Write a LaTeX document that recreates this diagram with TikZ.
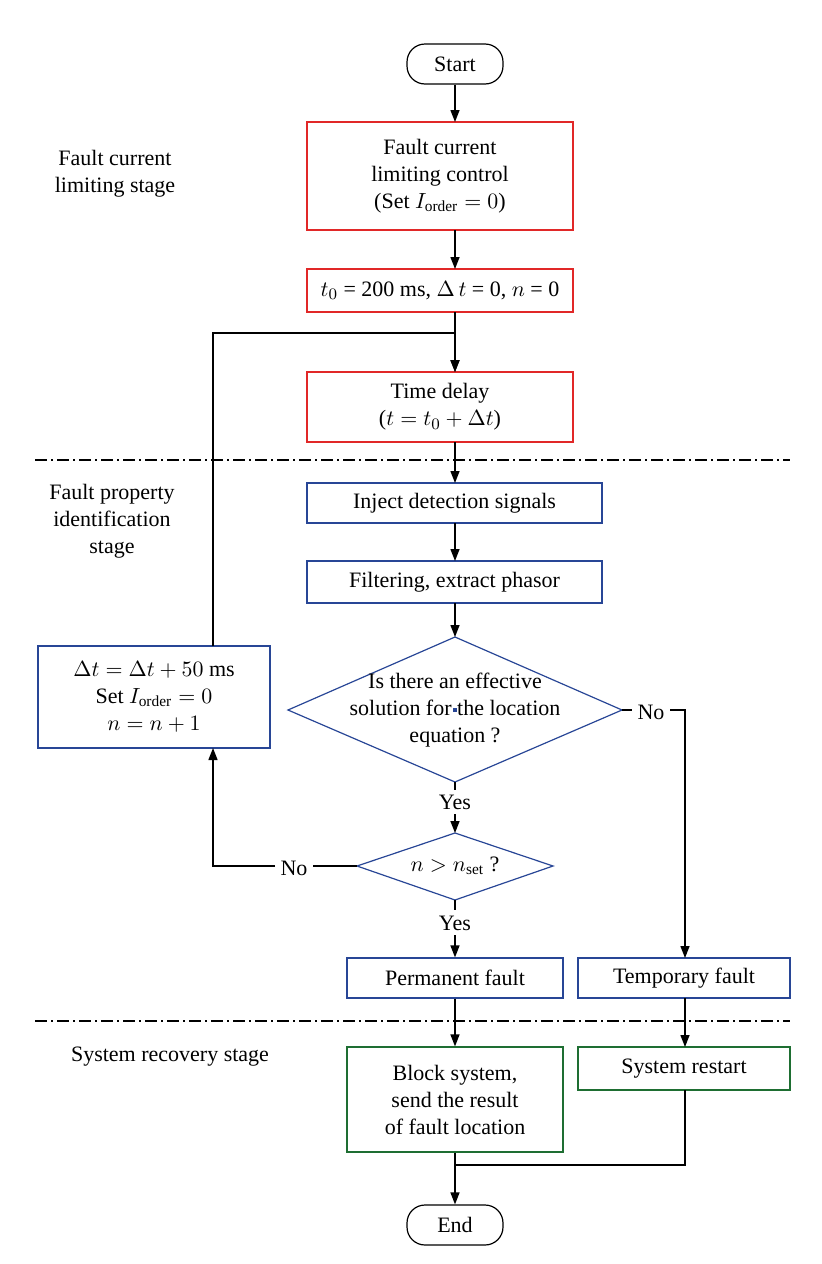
\documentclass[tikz,border=0pt]{standalone}
\usepackage{fontspec}
\setmainfont{Liberation Serif}
\usetikzlibrary{shapes.geometric,arrows.meta}
\definecolor{rd}{RGB}{225,40,40}
\definecolor{bl}{RGB}{40,70,150}
\definecolor{gr}{RGB}{30,110,50}
\begin{document}
\begin{tikzpicture}[x=0.5pt,y=-0.5pt,font=\fontsize{11}{13.5}\selectfont,
 box/.style={draw,line width=0.6pt,align=center,inner sep=0pt,minimum height=#1},
 rbox/.style={box=#1,draw=rd},bbox/.style={box=#1,draw=bl},gbox/.style={box=#1,draw=gr},
 term/.style={draw,rounded corners=9pt,minimum width=48pt,minimum height=20pt,inner sep=0pt,line width=0.6pt},
 dia/.style={diamond,draw=bl,line width=0.6pt,aspect=#1,inner sep=0pt,align=center},
 ar/.style={-{Triangle[length=6pt,width=4.5pt]},line width=0.7pt},
 ln/.style={line width=0.7pt},
 sep/.style={line width=0.6pt,dash pattern=on 6pt off 2pt on 1pt off 2pt}]
\useasboundingbox (0,0) rectangle (821,1264);
\node[term] (start) at (455,64) {Start};
\node[rbox=54pt,minimum width=133pt] (b1) at (440,176) {Fault current\\limiting control\\(Set $I_{\mathrm{order}}=0$)};
\node[rbox=21.5pt,minimum width=133pt] (b2) at (440,290.5) {$t_0$ = 200 ms, $\Delta\,t$ = 0, $n$ = 0};
\node[rbox=35pt,minimum width=133pt] (b3) at (440,407) {Time delay\\($t=t_0+\Delta t$)};
\node[bbox=20pt,minimum width=147.5pt] (b4) at (454.5,503) {Inject detection signals};
\node[bbox=21pt,minimum width=147.5pt] (b5) at (454.5,582) {Filtering, extract phasor};
\node[draw=bl,line width=0.6pt,align=center,inner sep=0pt] (d1) at (455,710) {};
\coordinate (d1t) at (455,637); \coordinate (d1b) at (455,782);
\coordinate (d1l) at (288,710); \coordinate (d1r) at (622,710);
\draw[bl,line width=0.6pt] (d1t)--(d1r)--(d1b)--(d1l)--cycle;
\node[align=center,inner sep=0pt] at (455,710) {Is there an effective\\solution for the location\\equation ?};
\coordinate (d2t) at (455,833); \coordinate (d2b) at (455,900);
\coordinate (d2l) at (357,866); \coordinate (d2r) at (553,866);
\draw[bl,line width=0.6pt] (d2t)--(d2r)--(d2b)--(d2l)--cycle;
\node[inner sep=0pt] (d2) at (455,866) {$n>n_{\mathrm{set}}$ ?};
\node[bbox=51pt,minimum width=116pt] (lb) at (154,697) {$\Delta t=\Delta t+50$ ms\\Set $I_{\mathrm{order}}=0$\\$n=n+1$};
\node[bbox=20pt,minimum width=108pt] (pf) at (455,978) {Permanent fault};
\node[bbox=20pt,minimum width=106pt] (tf) at (684,978) {Temporary fault};
\node[gbox=52.5pt,minimum width=108pt] (bs) at (455,1099.5) {Block system,\\send the result\\of fault location};
\node[gbox=21.5pt,minimum width=106pt] (sr) at (684,1068.5) {System restart};
\node[term] (end) at (455,1225) {End};
\draw[sep] (35,460)--(790,460); \draw[sep] (35,1021)--(790,1021);
\node[align=center] at (115,174) {Fault current\\limiting stage};
\node[align=center] at (112,521) {Fault property\\identification\\stage};
\node at (170,1057) {System recovery stage};
\draw[ar] (start)--(455,122);
\draw[ar] (455,230)--(455,269);
\draw[ar] (455,312)--(455,372);
\draw[ar] (455,442)--(455,483);
\draw[ar] (455,523)--(455,561);
\draw[ar] (455,603)--(d1t);
\draw[ln] (d1b)--(455,790);
\node[fill=white,inner sep=1pt] (y1) at (455,802) {Yes};
\draw[ar] (455,814)--(d2t);
\draw[ln] (d2b)--(455,910);
\node[fill=white,inner sep=1pt] (y2) at (455,923) {Yes};
\draw[ar] (455,935)--(pf);
\draw[ln] (d1r)--(632,710);
\node[inner sep=1pt] (n1) at (651,712) {No};
\draw[ar] (670,710)--(685,710)--(685,958);
\draw[ln] (d2l)--(313,866);
\node[inner sep=1pt] (n2) at (294,868) {No};
\draw[ar] (275,866)--(213,866)--(213,748);
\draw[ar] (213,646)--(213,333)--(455,333)--(455,372);
\draw[ar] (pf)--(bs);
\draw[ar] (685,998)--(685,1047);
\draw[ar] (bs)--(end);
\draw[ln] (685,1090)--(685,1165)--(455,1165);
\end{tikzpicture}
\end{document}
